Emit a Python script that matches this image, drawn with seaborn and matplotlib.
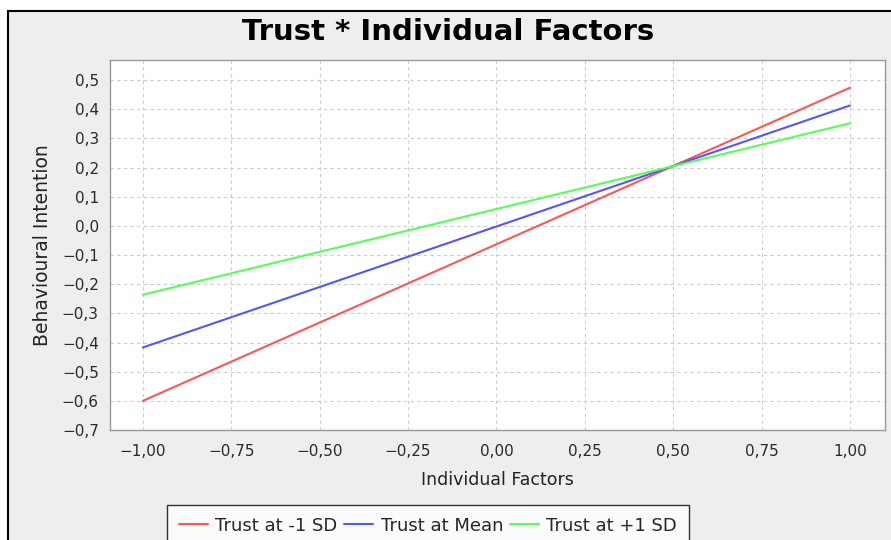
import matplotlib
matplotlib.use('Agg')
import matplotlib.pyplot as plt
import matplotlib.patches as mpatches
from matplotlib.ticker import FuncFormatter
import seaborn as sns
import pandas as pd

# dados
x_vals = [-1.0, 1.0]
low_sd = [-0.600, 0.474]
mean_vals = [-0.417, 0.413]
high_sd = [-0.236, 0.352]
series_names = ['Trust at -1 SD', 'Trust at Mean', 'Trust at +1 SD']
cores = ['#FF5555', '#5555FF', '#55FF55']

df = pd.DataFrame({
    'x': x_vals * 3,
    'y': low_sd + mean_vals + high_sd,
    'serie': [series_names[0]] * 2 + [series_names[1]] * 2 + [series_names[2]] * 2,
})

sns.set_style('white')
plt.rcParams['font.family'] = ['DejaVu Sans']

fig = plt.figure(figsize=(8.91, 5.40), dpi=100)
fig.patch.set_facecolor('white')
# moldura cinza com borda preta
fig.patches.append(mpatches.Rectangle((8 / 891, -0.1), 1.0, 1 - 11 / 540 + 0.1,
                                      transform=fig.transFigure, facecolor='#EEEEEE',
                                      edgecolor='black', linewidth=1.5, zorder=-10))

ax = fig.add_axes([110 / 891, 1 - 430 / 540, 775 / 891, 370 / 540])
ax.set_facecolor('white')
sns.lineplot(data=df, x='x', y='y', hue='serie', palette=cores, linewidth=1.5,
             ax=ax, legend=False)

ax.set_xlim(-1.093, 1.099)
ax.set_ylim(-0.7, 0.569)
ax.set_xticks([-1, -0.75, -0.5, -0.25, 0, 0.25, 0.5, 0.75, 1])
ax.set_yticks([-0.7, -0.6, -0.5, -0.4, -0.3, -0.2, -0.1, 0, 0.1, 0.2, 0.3, 0.4, 0.5])

def fmt_x(v, pos):
    return f'{v:.2f}'.replace('.', ',').replace('-', '\u2212')

def fmt_y(v, pos):
    s = f'{v:.1f}'.replace('.', ',')
    if s == '-0,0':
        s = '0,0'
    return s.replace('-', '\u2212')

ax.xaxis.set_major_formatter(FuncFormatter(fmt_x))
ax.yaxis.set_major_formatter(FuncFormatter(fmt_y))
ax.tick_params(axis='both', direction='out', length=4, color='#888888',
               labelsize=11, labelcolor='#2a2a2a', pad=4)
ax.tick_params(axis='x', pad=6)
ax.grid(True, linestyle=(0, (3, 3)), color='#CCCCCC', linewidth=0.8)
for s in ax.spines.values():
    s.set_color('#999999')
    s.set_linewidth(1)

ax.set_xlabel('Individual Factors', fontsize=12.5, color='#222222', labelpad=9)
ax.set_ylabel('Behavioural Intention', fontsize=13.5, color='#222222', labelpad=7)
fig.text(0.503, 1 - 32 / 540, 'Trust * Individual Factors', ha='center', va='center',
         fontsize=21, fontweight='bold', color='black')

handles = [plt.Line2D([], [], color=c, linewidth=1.5) for c in cores]
fig.legend(handles, series_names, loc='upper center', bbox_to_anchor=(428 / 891, 1 - 505 / 540),
           ncol=3, frameon=True, fontsize=13, handlelength=1.6, handletextpad=0.4,
           columnspacing=0.4, fancybox=False, edgecolor='black', borderpad=0.65,
           borderaxespad=0)

plt.savefig('out.png', dpi=100)
